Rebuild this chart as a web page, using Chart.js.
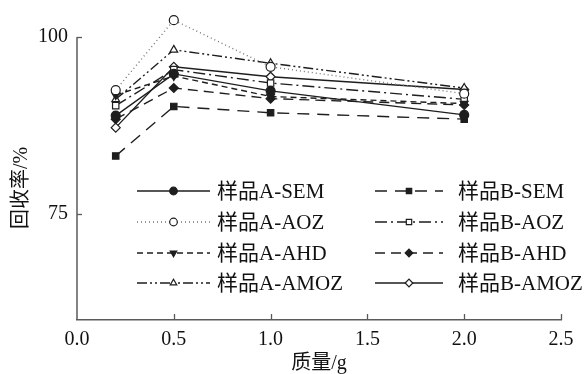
<!DOCTYPE html>
<html>
<head>
<meta charset="utf-8">
<script src="https://cdn.jsdelivr.net/npm/chart.js"></script>
<style>
html, body { margin: 0; padding: 0; background: #fff; }
#wrap { width: 587px; height: 374px; }
</style>
</head>
<body>
<div id="wrap"><canvas id="c"></canvas></div>
<script>
// data
const mass = [0.2, 0.5, 1.0, 2.0];
const names = ['样品A-SEM', '样品A-AOZ', '样品A-AHD', '样品A-AMOZ',
               '样品B-SEM', '样品B-AOZ', '样品B-AHD', '样品B-AMOZ'];
const aSEM  = [88.9, 94.8, 92.4, 89.0];
const aAOZ  = [92.5, 102.4, 95.8, 92.0];
const aAHD  = [91.8, 94.5, 91.6, 90.6];
const aAMOZ = [91.2, 98.2, 96.3, 92.8];
const bSEM  = [83.2, 90.2, 89.3, 88.4];
const bAOZ  = [90.3, 95.4, 93.5, 91.2];
const bAHD  = [88.4, 92.8, 91.3, 90.4];
const bAMOZ = [87.2, 95.8, 94.4, 92.6];
const xTicks = [0, 0.5, 1.0, 1.5, 2.0, 2.5];
const yTicks = [75, 100];

const INK = '#1e1e1e';
const AXIS = '#5a5a5a';
const FONT = "'Liberation Serif', 'Noto Sans CJK SC', serif";

// line / marker style per series
const styles = [
  { dash: [],                    point: 'circle',   fill: true,  rot: 0 },
  { dash: [1, 3],                point: 'circle',   fill: false, rot: 0, color: '#777' },
  { dash: [6, 4],                point: 'triangle', fill: true,  rot: 180 },
  { dash: [10, 3, 2, 3, 2, 3],   point: 'triangle', fill: false, rot: 0 },
  { dash: [12, 8],               point: 'rect',     fill: true,  rot: 0 },
  { dash: [12, 4, 2, 4],         point: 'rect',     fill: false, rot: 0 },
  { dash: [10, 6],               point: 'rectRot',  fill: true,  rot: 0 },
  { dash: [],                    point: 'rectRot',  fill: false, rot: 0 }
];
const values = [aSEM, aAOZ, aAHD, aAMOZ, bSEM, bAOZ, bAHD, bAMOZ];

const datasets = values.map((vals, i) => {
  const s = styles[i];
  return {
    label: names[i],
    data: mass.map((m, j) => ({ x: m, y: vals[j] })),
    borderColor: s.color || INK,
    borderWidth: 1.4,
    borderDash: s.dash,
    pointStyle: s.point,
    pointRotation: s.rot,
    pointRadius: 4.5,
    pointBorderColor: INK,
    pointBorderWidth: 1.2,
    pointBackgroundColor: s.fill ? INK : '#fff',
    tension: 0,
    clip: false
  };
});

const extras = {
  id: 'extras',
  afterDraw(chart) {
    const ctx = chart.ctx;
    const xs = chart.scales.x, ys = chart.scales.y;
    ctx.save();
    ctx.strokeStyle = AXIS;
    ctx.setLineDash([]);
    // y axis line only from 100 down
    ctx.lineWidth = 1.5;
    const yTop = Math.round(ys.getPixelForValue(100));
    ctx.beginPath(); ctx.moveTo(xs.left, yTop); ctx.lineTo(xs.left, ys.bottom); ctx.stroke();
    // inward tick marks
    ctx.lineWidth = 1.3;
    xTicks.forEach(v => {
      if (v === 0) return;
      const px = Math.round(xs.getPixelForValue(v)) + 0.5;
      ctx.beginPath(); ctx.moveTo(px, ys.bottom); ctx.lineTo(px, ys.bottom - 6); ctx.stroke();
    });
    yTicks.forEach(v => {
      const py = Math.round(ys.getPixelForValue(v)) + 0.5;
      ctx.beginPath(); ctx.moveTo(xs.left, py); ctx.lineTo(xs.left + 5, py); ctx.stroke();
    });
    // y axis title
    ctx.fillStyle = '#111';
    ctx.font = '20px ' + FONT;
    ctx.textAlign = 'center';
    ctx.textBaseline = 'middle';
    ctx.save();
    ctx.translate(22, 188);
    ctx.rotate(-Math.PI / 2);
    ctx.fillText('回收率/%', 0, 0);
    ctx.restore();
    // legend in two columns
    const cols = [{ x0: 137, x1: 210, tx: 217 }, { x0: 375, x1: 443, tx: 458 }];
    const rows = [191, 222, 253, 283];
    ctx.font = '21px ' + FONT;
    ctx.textAlign = 'left';
    chart.data.datasets.forEach((ds, i) => {
      const c = cols[Math.floor(i / 4)], y = rows[i % 4];
      ctx.strokeStyle = ds.borderColor;
      ctx.lineWidth = ds.borderWidth;
      ctx.setLineDash(ds.borderDash);
      ctx.beginPath(); ctx.moveTo(c.x0, y); ctx.lineTo(c.x1, y); ctx.stroke();
      ctx.setLineDash([]);
      ctx.strokeStyle = ds.pointBorderColor;
      ctx.fillStyle = ds.pointBackgroundColor;
      ctx.lineWidth = ds.pointBorderWidth;
      Chart.helpers.drawPoint(ctx, {
        pointStyle: ds.pointStyle, radius: 3.8, rotation: ds.pointRotation, borderWidth: ds.pointBorderWidth
      }, (c.x0 + c.x1) / 2, y);
      ctx.fillStyle = '#111';
      ctx.fillText(ds.label, c.tx, y + 1);
    });
    ctx.restore();
  }
};

new Chart(document.getElementById('c'), {
  type: 'line',
  data: { datasets },
  options: {
    responsive: true,
    maintainAspectRatio: false,
    animation: false,
    layout: { padding: { left: 0, right: 26, top: 15, bottom: 0 } },
    plugins: { legend: { display: false }, tooltip: { enabled: false } },
    scales: {
      x: {
        type: 'linear', min: 0, max: 2.5,
        afterBuildTicks: s => { s.ticks = xTicks.map(v => ({ value: v })); },
        afterFit: s => { s.height = 54; s.paddingLeft = 0; s.paddingRight = 0; },
        grid: { display: false, drawTicks: false },
        border: { display: true, color: AXIS, width: 1.5 },
        ticks: { color: '#111', font: { family: FONT, size: 20 }, padding: 8, maxRotation: 0,
                 callback: v => v.toFixed(1) },
        title: { display: true, text: '质量/g', color: '#111',
                 font: { family: FONT, size: 20, lineHeight: 1 }, padding: { top: 0, bottom: 0 } }
      },
      y: {
        type: 'linear', min: 60, max: 103.125,
        afterBuildTicks: s => { s.ticks = yTicks.map(v => ({ value: v })); },
        afterFit: s => { s.width = 77; s.paddingTop = 0; s.paddingBottom = 0; },
        grid: { display: false, drawTicks: false },
        border: { display: false },
        ticks: { color: '#111', font: { family: FONT, size: 20 }, padding: 9 }
      }
    }
  },
  plugins: [extras]
});
</script>
</body>
</html>
